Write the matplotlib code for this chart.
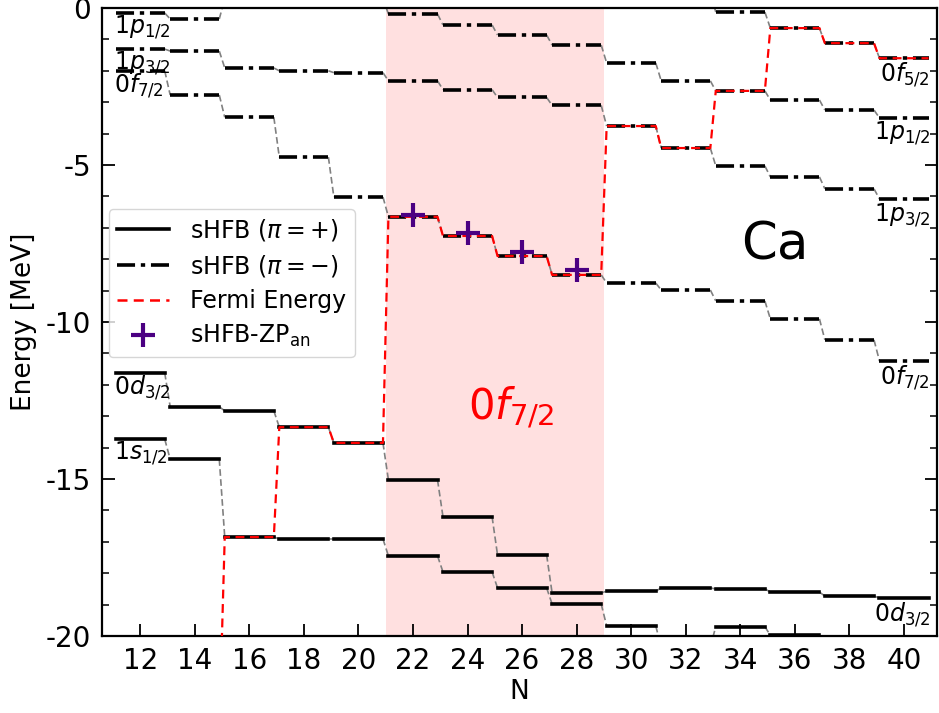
import numpy as np
import matplotlib
matplotlib.use("Agg")
import matplotlib.pyplot as plt
from matplotlib.lines import Line2D

plt.rcParams['axes.unicode_minus'] = False

# --- data ---
N = [12, 14, 16, 18, 20, 22, 24, 26, 28, 30, 32, 34, 36, 38, 40]

# positive parity levels (MeV)
d32 = [-11.62, -12.70, -12.83, -13.35, -13.85, -15.03, -16.20, -17.42,
       -18.63, -18.57, -18.47, -18.50, -18.60, -18.73, -18.79]
s12 = [-13.73, -14.37, -16.85, -16.91, -16.91, -17.45, -17.96, -18.47,
       -18.98, -19.68, -20.35, -19.70, -19.98, -20.30, -20.50]

# negative parity levels (MeV)
f72 = [-2.00, -2.77, -3.48, -4.75, -6.02, -6.65, -7.26, -7.90,
       -8.50, -8.76, -8.98, -9.33, -9.90, -10.57, -11.24]
p32 = [-1.31, -1.37, -1.91, -2.00, -2.06, -2.32, -2.60, -2.85,
       -3.10, -3.76, -4.46, -5.03, -5.38, -5.76, -6.08]
p12 = [-0.16, -0.35, 0.30, 0.40, 0.30, -0.19, -0.54, -0.86,
       -1.18, -1.75, -2.32, -2.64, -2.93, -3.25, -3.50]
f52 = [np.nan, np.nan, np.nan, np.nan, np.nan, np.nan, np.nan, np.nan,
       np.nan, np.nan, 0.50, -0.13, -0.64, -1.12, -1.60]

fermi = [-24.0, -23.0, -16.85, -13.35, -13.85, -6.65, -7.26, -7.90,
         -8.50, -3.76, -4.46, -2.64, -0.64, -1.12, -1.60]

N_zp = [22, 24, 26, 28]
E_zp = [-6.59, -7.17, -7.76, -8.34]

left_labels = [("$1p_{1/2}$", p12[0]), ("$1p_{3/2}$", p32[0]), ("$0f_{7/2}$", f72[0]),
               ("$0d_{3/2}$", d32[0]), ("$1s_{1/2}$", s12[0])]
right_labels = [("$0f_{5/2}$", f52[-1]), ("$1p_{1/2}$", p12[-1]), ("$1p_{3/2}$", p32[-1]),
                ("$0f_{7/2}$", f72[-1]), ("$0d_{3/2}$", d32[-1])]

HW = 0.9  # half width of a level segment


def draw_levels(ax, ns, es, ls, lw=2.6):
    for i, (n, e) in enumerate(zip(ns, es)):
        if np.isnan(e):
            continue
        ax.plot([n - HW, n + HW], [e, e], color='black', ls=ls, lw=lw, zorder=3)
        if i + 1 < len(ns) and not np.isnan(es[i + 1]):
            ax.plot([n + HW, ns[i + 1] - HW], [e, es[i + 1]], color='gray',
                    ls=(0, (4, 2)), lw=1.2, zorder=2)


def step_path(ns, es):
    xs, ys = [], []
    for n, e in zip(ns, es):
        xs += [n - HW, n + HW]
        ys += [e, e]
    return xs, ys


fig = plt.figure(figsize=(9.39, 7.13), dpi=100)
ax = fig.add_axes([0.1086, 0.108, 0.889, 0.8808])

ax.axvspan(21, 29, color='red', alpha=0.12, lw=0, zorder=0)

dashdot = (0, (5, 1.6, 1.2, 1.6))
for lev in (d32, s12):
    draw_levels(ax, N, lev, '-')
for lev in (f72, p32, p12, f52):
    draw_levels(ax, N, lev, dashdot)

fx, fy = step_path(N, fermi)
ax.plot(fx, fy, color='red', ls=(0, (4, 2.5)), lw=1.6, zorder=4)

ax.plot(N_zp, E_zp, ls='none', marker='+', ms=17, mew=3, color='indigo', zorder=5)

for txt, e in left_labels:
    ax.text(11.05, e - 0.02, txt, ha='left', va='top', fontsize=17, zorder=6)
for txt, e in right_labels:
    ax.text(40.95, e - 0.08, txt, ha='right', va='top', fontsize=17, zorder=6)

ax.text(25.6, -12.75, "$0f_{7/2}$", color='red', fontsize=30, ha='center', va='center')
ax.text(35.25, -7.55, "Ca", fontsize=37, ha='center', va='center')

ax.set_xlim(10.6, 41.2)
ax.set_ylim(-20, 0)
ax.set_xticks(np.arange(12, 41, 2))
ax.set_yticks([0, -5, -10, -15, -20])
ax.set_yticks(np.arange(-20, 1, 1), minor=True)
ax.tick_params(axis='both', which='major', direction='in', length=9, width=1.3,
               labelsize=20, pad=8)
ax.tick_params(axis='y', which='both', right=True, direction='in')
ax.tick_params(axis='y', which='minor', length=5, width=1.1)
ax.tick_params(axis='x', which='minor', bottom=False, top=False)
for sp in ax.spines.values():
    sp.set_linewidth(1.6)

ax.set_xlabel("N", fontsize=19, labelpad=3)
ax.set_ylabel("Energy [MeV]", fontsize=19, labelpad=6)

handles = [
    Line2D([], [], color='black', lw=2.6, ls='-'),
    Line2D([], [], color='black', lw=2.6, ls=dashdot),
    Line2D([], [], color='red', lw=1.8, ls=(0, (4, 2.5))),
    Line2D([], [], color='indigo', ls='none', marker='+', ms=17, mew=3),
]
labels = [r"sHFB ($\pi=+$)", r"sHFB ($\pi=-$)", "Fermi Energy", r"sHFB-ZP$_{\rm an}$"]
ax.legend(handles, labels, loc='upper left', bbox_to_anchor=(0.008, 0.68),
          borderaxespad=0, fontsize=17, handlelength=2.2, borderpad=0.35,
          labelspacing=0.42, handletextpad=0.9)

fig.savefig("out.png", dpi=100)
